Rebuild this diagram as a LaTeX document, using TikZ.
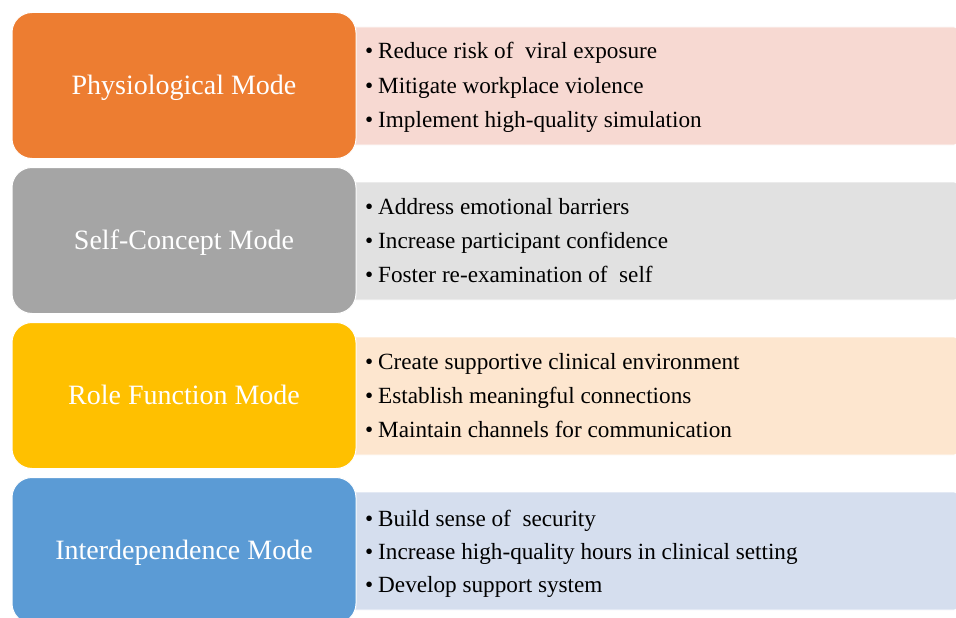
\documentclass[tikz,border=0pt]{standalone}
\usepackage{fontspec}
\setmainfont{Liberation Serif}
\definecolor{cOrange}{HTML}{ED7D31}
\definecolor{cGray}{HTML}{A5A5A5}
\definecolor{cGold}{HTML}{FFC000}
\definecolor{cBlue}{HTML}{5B9BD5}
\definecolor{lOrange}{HTML}{F7D9D2}
\definecolor{lGray}{HTML}{E1E1E1}
\definecolor{lGold}{HTML}{FDE6CF}
\definecolor{lBlue}{HTML}{D5DEEE}
\begin{document}
\begin{tikzpicture}[x=1pt,y=-1pt,
  modebox/.style={rounded corners=20pt, draw=white, line width=1pt, minimum width=344pt, minimum height=146pt, inner sep=0pt},
  modetext/.style={anchor=base, inner sep=0pt, text=white, font=\fontsize{28}{33}\selectfont},
  listbox/.style={rounded corners=3pt, draw=white, line width=0.6pt, minimum width=618pt, minimum height=118pt, inner sep=0pt},
  itemtext/.style={anchor=base west, inner sep=0pt, text=black, font=\fontsize{23.2}{28}\selectfont},
]
\useasboundingbox (0,0) rectangle (956,618);
\clip (0,0) rectangle (956,618);
\fill[white] (0,0) rectangle (956,618);

% list boxes (behind)
\node[listbox, fill=lOrange] (l1) at (648,86) {};
\node[listbox, fill=lGray]   (l2) at (648,241) {};
\node[listbox, fill=lGold]   (l3) at (648,396) {};
\node[listbox, fill=lBlue]   (l4) at (648,551) {};

% mode boxes
\node[modebox, fill=cOrange] (m1) at (184,85.5) {};
\node[modebox, fill=cGray]   (m2) at (184,240.5) {};
\node[modebox, fill=cGold]   (m3) at (184,395.5) {};
\node[modebox, fill=cBlue]   (m4) at (184,550.5) {};

\node[modetext] (t1) at (184,94.5) {Physiological Mode};
\node[modetext] (t2) at (184,249.5) {Self-Concept Mode};
\node[modetext] (t3) at (184,404.5) {Role Function Mode};
\node[modetext] (t4) at (184,559.5) {Interdependence Mode};

% bullets and items
\node[itemtext] (b11) at (365,59) {\textbullet};
\node[itemtext] (i11) at (378,59) {Reduce risk of\ \ viral exposure};
\node[itemtext] (b12) at (365,93) {\textbullet};
\node[itemtext] (i12) at (378,93) {Mitigate workplace violence};
\node[itemtext] (b13) at (365,127) {\textbullet};
\node[itemtext] (i13) at (378,127) {Implement high-quality simulation};

\node[itemtext] (b21) at (365,214) {\textbullet};
\node[itemtext] (i21) at (378,214) {Address emotional barriers};
\node[itemtext] (b22) at (365,248) {\textbullet};
\node[itemtext] (i22) at (378,248) {Increase participant confidence};
\node[itemtext] (b23) at (365,282) {\textbullet};
\node[itemtext] (i23) at (378,282) {Foster re-examination of\ \ self};

\node[itemtext] (b31) at (365,369) {\textbullet};
\node[itemtext] (i31) at (378,369) {Create supportive clinical environment};
\node[itemtext] (b32) at (365,403) {\textbullet};
\node[itemtext] (i32) at (378,403) {Establish meaningful connections};
\node[itemtext] (b33) at (365,437) {\textbullet};
\node[itemtext] (i33) at (378,437) {Maintain channels for communication};

\node[itemtext] (b41) at (365,526) {\textbullet};
\node[itemtext] (i41) at (378,526) {Build sense of\ \ security};
\node[itemtext] (b42) at (365,559) {\textbullet};
\node[itemtext] (i42) at (378,559) {Increase high-quality hours in clinical setting};
\node[itemtext] (b43) at (365,592) {\textbullet};
\node[itemtext] (i43) at (378,592) {Develop support system};
\end{tikzpicture}
\end{document}
